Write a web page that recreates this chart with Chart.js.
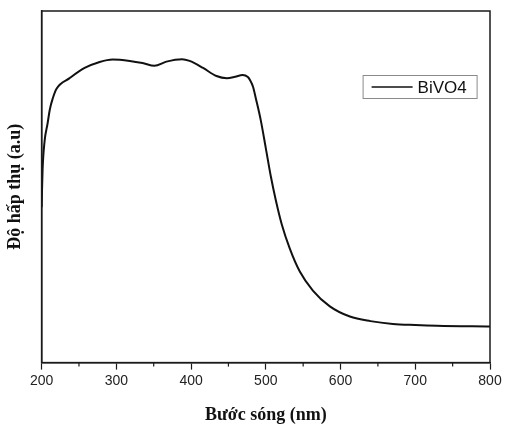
<!DOCTYPE html>
<html>
<head>
<meta charset="utf-8">
<script src="https://cdn.jsdelivr.net/npm/chart.js@4.4.1/dist/chart.umd.min.js"></script>
<style>
  html, body { margin: 0; padding: 0; background: #fff; }
  #wrap { width: 506px; height: 426px; }
</style>
</head>
<body>
<div id="wrap"><canvas id="uvvis" width="506" height="426"></canvas></div>
<script>
// phổ hấp thụ BiVO4
const wavelength = [200, 201.3, 204, 208, 211, 215, 220, 237.5, 257.6, 277.7, 295, 318, 335, 351, 367, 388, 398, 416, 434, 448, 459, 469, 476, 479, 483, 486.6, 493.3, 500, 506.7, 513.4, 521.4, 532, 545.5, 563, 585.7, 612.5, 640, 670, 700, 729, 800];
const absorbance = [0.442, 0.547, 0.630, 0.680, 0.720, 0.752, 0.779, 0.809, 0.838, 0.855, 0.862, 0.858, 0.852, 0.844, 0.856, 0.863, 0.858, 0.838, 0.815, 0.809, 0.813, 0.818, 0.812, 0.803, 0.784, 0.752, 0.689, 0.610, 0.530, 0.462, 0.393, 0.325, 0.259, 0.205, 0.160, 0.131, 0.118, 0.110, 0.107, 0.105, 0.103];
const seriesName = 'BiVO4';
const majorTicks = [200, 300, 400, 500, 600, 700, 800];
const minorTicks = [250, 350, 450, 550, 650, 750];

const points = wavelength.map((w, i) => ({ x: w, y: absorbance[i] }));

// khung, vạch chia phụ, chú thích
const frame = {
  id: 'frame',
  afterDatasetsDraw(chart) {
    const { ctx, chartArea: a, scales } = chart;
    ctx.save();
    ctx.strokeStyle = '#1a1a1a';
    ctx.lineWidth = 1.5;
    ctx.strokeRect(a.left, a.top, a.right - a.left, a.bottom - a.top);
    ctx.lineWidth = 1.2;
    minorTicks.forEach(v => {
      const x = scales.x.getPixelForValue(v);
      ctx.beginPath();
      ctx.moveTo(x, a.bottom);
      ctx.lineTo(x, a.bottom + 4);
      ctx.stroke();
    });
    // legend
    const lx = a.left + 321, ly = a.top + 64;
    ctx.strokeStyle = '#8a8a8a';
    ctx.lineWidth = 1;
    ctx.strokeRect(lx + 0.5, ly + 0.5, 114, 23);
    ctx.strokeStyle = '#111';
    ctx.lineWidth = 1.5;
    ctx.beginPath();
    ctx.moveTo(lx + 9, ly + 12);
    ctx.lineTo(lx + 50, ly + 12);
    ctx.stroke();
    ctx.fillStyle = '#111';
    ctx.font = '17px "Liberation Sans", Arial, sans-serif';
    ctx.textBaseline = 'middle';
    ctx.fillText(seriesName, lx + 55, ly + 13);
    ctx.restore();
  }
};

new Chart(document.getElementById('uvvis'), {
  type: 'scatter',
  data: {
    datasets: [{
      label: seriesName,
      data: points,
      showLine: true,
      borderColor: '#111',
      borderWidth: 2,
      pointRadius: 0,
      cubicInterpolationMode: 'monotone'
    }]
  },
  options: {
    responsive: false,
    animation: false,
    layout: { padding: { top: 11, right: 16, left: 5, bottom: 0 } },
    plugins: { legend: { display: false }, tooltip: { enabled: false } },
    scales: {
      x: {
        type: 'linear',
        min: 200, max: 800,
        afterBuildTicks: s => { s.ticks = majorTicks.map(v => ({ value: v })); },
        ticks: { color: '#222', font: { family: '"Liberation Sans", Arial, sans-serif', size: 14 }, padding: 3, maxRotation: 0 },
        grid: { drawOnChartArea: false, drawTicks: true, tickLength: 7, tickColor: '#1a1a1a', tickWidth: 1.2 },
        border: { display: true, color: '#1a1a1a', width: 1.5 },
        title: {
          display: true,
          text: 'Bước sóng (nm)',
          color: '#111',
          font: { family: '"Liberation Serif", "Times New Roman", serif', size: 18, weight: 'bold' },
          padding: { top: 12, bottom: 0 }
        }
      },
      y: {
        min: 0, max: 1,
        ticks: { display: false },
        grid: { display: false, drawTicks: false },
        border: { display: true, color: '#1a1a1a', width: 1.5 },
        title: {
          display: true,
          text: 'Độ hấp thụ (a.u)',
          color: '#111',
          font: { family: '"Liberation Serif", "Times New Roman", serif', size: 18, weight: 'bold' },
          padding: { top: 0, bottom: 15 }
        }
      }
    }
  },
  plugins: [frame]
});
</script>
</body>
</html>
